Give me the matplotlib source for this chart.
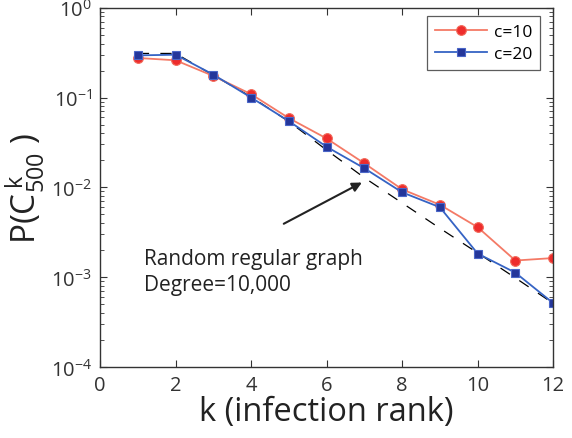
import numpy as np
import matplotlib
matplotlib.use('Agg')
import matplotlib.pyplot as plt
from matplotlib.ticker import LogLocator, NullFormatter

plt.rcParams['font.family'] = ['Open Sans', 'DejaVu Sans']
plt.rcParams['mathtext.default'] = 'regular'

# infection rank
k = [1, 2, 3, 4, 5, 6, 7, 8, 9, 10, 11, 12]
# P(C^k_500)
p_c10 = [0.276, 0.26, 0.174, 0.109, 0.059, 0.035, 0.0185, 0.0095, 0.0064, 0.0036, 0.00153, 0.00163]
p_c20 = [0.295, 0.30, 0.18, 0.10, 0.0546, 0.0283, 0.0163, 0.0088, 0.006, 0.00183, 0.00112, 0.000514]
# random regular graph reference (dashed)
p_rrg = [0.31, 0.31, 0.177, 0.102, 0.054, 0.026, 0.0128, 0.0067, 0.0035, 0.00186, 0.00098, 0.00051]

fig = plt.figure(figsize=(5.72, 4.39), dpi=100)
ax = fig.add_axes([0.175, 0.162, 0.792, 0.818])

ax.plot(k, p_rrg, color='black', lw=0.9, dashes=(9, 9))
ax.plot(k, p_c10, color='#f47a66', lw=1.3, marker='o', ms=7,
        mfc='#ee2c2c', mec='#f26a5a', mew=0.8, label='c=10')
ax.plot(k, p_c20, color='#3563c4', lw=1.3, marker='s', ms=5.8,
        mfc='#24369a', mec='#4a66c8', mew=0.8, label='c=20')

ax.set_yscale('log')
ax.set_xlim(0, 12)
ax.set_ylim(1e-4, 1)
ax.set_xticks([0, 2, 4, 6, 8, 10, 12])
ax.yaxis.set_major_locator(LogLocator(base=10, numticks=10))
ax.yaxis.set_minor_locator(LogLocator(base=10, subs=np.arange(2, 10), numticks=10))
ax.yaxis.set_minor_formatter(NullFormatter())
ax.tick_params(which='both', direction='in', top=True, right=True, color='#333333')
ax.tick_params(which='major', length=5, labelsize=14.5, pad=6, labelcolor='#333333')
ax.tick_params(which='minor', length=3)
for s in ax.spines.values():
    s.set_color('#333333')
    s.set_linewidth(1.0)

ax.set_xlabel('k (infection rank)', fontsize=23.5, color='#222222', labelpad=0)
ax.set_ylabel(r'P(C$^{\,k}_{500}$ )', fontsize=24, color='#222222', labelpad=2)

ax.annotate('', xy=(7.0, 0.0117), xytext=(4.8, 0.0038),
            arrowprops=dict(arrowstyle='-|>', color='#222222', lw=1.5,
                            mutation_scale=14))
ax.text(1.15, 0.0021, 'Random regular graph\nDegree=10,000', fontsize=15,
        color='#222222', va='top', ha='left', linespacing=1.3)

leg = ax.legend(loc='upper right', bbox_to_anchor=(0.971, 0.978), borderaxespad=0,
                fontsize=12.5, frameon=True, fancybox=False, edgecolor='#333333',
                handlelength=3.0, borderpad=0.45, labelspacing=0.35, handletextpad=0.4)
leg.get_frame().set_linewidth(0.9)

fig.savefig('out.png', dpi=100)
